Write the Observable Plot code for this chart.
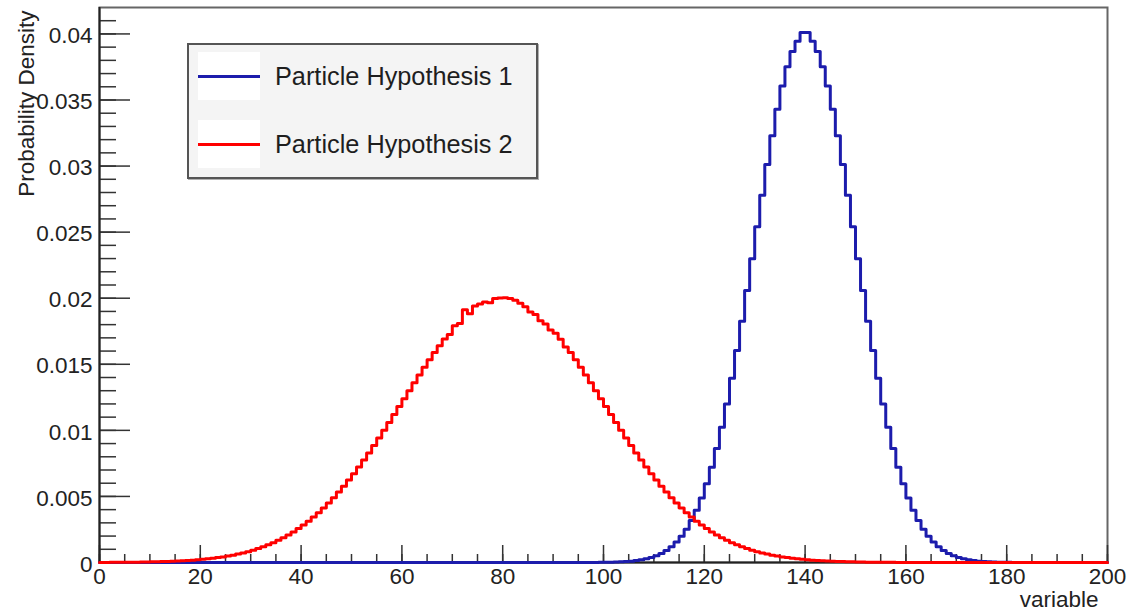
<!DOCTYPE html>
<html>
<head>
<meta charset="utf-8">
<script src="https://cdn.jsdelivr.net/npm/d3@7"></script>
<script src="https://cdn.jsdelivr.net/npm/@observablehq/plot@0.6"></script>
<style>
  body { margin: 0; background: #fff; font-family: "Liberation Sans", Arial, sans-serif; }
  #wrap { position: relative; width: 1143px; height: 611px; overflow: hidden; }
  .legend { position: absolute; left: 187px; top: 43px; width: 347px; height: 132px;
            border: 2px solid #555; background: #f4f4f4; box-shadow: 1px 1px 0 #b0b0b0; }
  .sample { position: absolute; left: 9px; width: 62px; height: 48px; background: #fff; }
  .sample i { position: absolute; left: 0; right: 0; top: 23px; height: 3px; display: block; }
  .entry { position: absolute; left: 86px; font-size: 25.3px; color: #1e1e1e; line-height: 30px; white-space: nowrap; }
</style>
</head>
<body>
<div id="wrap"></div>
<script>
// ---- data ----
const binLow = 0, binHigh = 200, binWidth = 1;
const seriesNames = ["Particle Hypothesis 1", "Particle Hypothesis 2"];
const seriesColors = ["#1c1cac", "#ff0000"];

// Hypothesis 1: bins 92 .. 187
const hyp1Start = 92;
const hyp1Values = [
  0.000001, 0.000001, 0.000001, 0.000002, 0.000003, 0.000004, 0.000007, 0.000011,
  0.000016, 0.000024, 0.000035, 0.000051, 0.000073, 0.000104, 0.000146, 0.000203,
  0.000279, 0.000381, 0.000514, 0.000687, 0.000909, 0.001191, 0.001545, 0.001984,
  0.002522, 0.003174, 0.003955, 0.004880, 0.005960, 0.007207, 0.008628, 0.010227,
  0.012001, 0.013943, 0.016038, 0.018265, 0.020593, 0.022988, 0.025406, 0.027799,
  0.030114, 0.032297, 0.034294, 0.036053, 0.037524, 0.038667, 0.039448, 0.040100,
  0.040100, 0.039448, 0.038667, 0.037524, 0.036053, 0.034294, 0.032297, 0.030114,
  0.027799, 0.025406, 0.022988, 0.020593, 0.018265, 0.016038, 0.013943, 0.012001,
  0.010227, 0.008628, 0.007207, 0.005960, 0.004880, 0.003955, 0.003174, 0.002522,
  0.001984, 0.001545, 0.001191, 0.000909, 0.000687, 0.000514, 0.000381, 0.000279,
  0.000203, 0.000146, 0.000104, 0.000073, 0.000051, 0.000035, 0.000024, 0.000016,
  0.000011, 0.000007, 0.000004, 0.000003, 0.000002, 0.000001, 0.000001, 0.000001
];

// Hypothesis 2: bins 0 .. 162
const hyp2Start = 0;
const hyp2Values = [
  0.000007, 0.000009, 0.000011, 0.000013, 0.000016, 0.000019, 0.000023, 0.000028,
  0.000033, 0.000040, 0.000048, 0.000057, 0.000067, 0.000079, 0.000093, 0.000110,
  0.000129, 0.000151, 0.000176, 0.000206, 0.000239, 0.000277, 0.000320, 0.000369,
  0.000424, 0.000487, 0.000557, 0.000636, 0.000725, 0.000823, 0.000933, 0.001054,
  0.001188, 0.001337, 0.001500, 0.001678, 0.001873, 0.002086, 0.002317, 0.002567,
  0.002837, 0.003128, 0.003439, 0.003773, 0.004128, 0.004505, 0.004905, 0.005327,
  0.005771, 0.006236, 0.006721, 0.007227, 0.007751, 0.008292, 0.008849, 0.009420,
  0.010002, 0.010594, 0.011193, 0.011796, 0.012401, 0.013004, 0.013603, 0.014193,
  0.014772, 0.015337, 0.015883, 0.016408, 0.016908, 0.017250, 0.017910, 0.018080,
  0.019120, 0.018820, 0.019420, 0.019570, 0.019720, 0.019650, 0.019980, 0.020020,
  0.020030, 0.019980, 0.019850, 0.019620, 0.019350, 0.018950, 0.018760, 0.018300,
  0.018050, 0.017600, 0.017350, 0.016900, 0.016300, 0.015883, 0.015337, 0.014772,
  0.014193, 0.013603, 0.013004, 0.012401, 0.011796, 0.011193, 0.010594, 0.010002,
  0.009420, 0.008849, 0.008292, 0.007751, 0.007227, 0.006721, 0.006236, 0.005771,
  0.005327, 0.004905, 0.004505, 0.004128, 0.003773, 0.003439, 0.003128, 0.002837,
  0.002567, 0.002317, 0.002086, 0.001873, 0.001678, 0.001500, 0.001337, 0.001188,
  0.001054, 0.000933, 0.000823, 0.000725, 0.000636, 0.000557, 0.000487, 0.000424,
  0.000369, 0.000320, 0.000277, 0.000239, 0.000206, 0.000176, 0.000151, 0.000129,
  0.000110, 0.000093, 0.000079, 0.000067, 0.000057, 0.000048, 0.000040, 0.000033,
  0.000028, 0.000023, 0.000019, 0.000016, 0.000013, 0.000011, 0.000009, 0.000007,
  0.000005, 0.000004, 0.000003
];

// ticks and labels
const xMajorTicks = [0, 20, 40, 60, 80, 100, 120, 140, 160, 180, 200];
const xTickLabels = ["0", "20", "40", "60", "80", "100", "120", "140", "160", "180", "200"];
const xMinorTicks = d3.range(0, 201, 5);
const yMajorTicks = [0, 0.005, 0.01, 0.015, 0.02, 0.025, 0.03, 0.035, 0.04];
const yTickLabels = ["0", "0.005", "0.01", "0.015", "0.02", "0.025", "0.03", "0.035", "0.04"];
const yMinorTicks = d3.range(0, 42).map(k => k / 1000);
const xTitle = "variable";
const yTitle = "Probability Density";

// ---- build step tables ----
const nBins = Math.round((binHigh - binLow) / binWidth);
function steps(start, values) {
  const full = new Array(nBins).fill(0);
  values.forEach((v, k) => { full[start + k] = v; });
  const pts = full.map((v, i) => ({x: binLow + i * binWidth, y: v}));
  pts.push({x: binHigh, y: full[nBins - 1]});
  return pts;
}
const hyp1 = steps(hyp1Start, hyp1Values);
const hyp2 = steps(hyp2Start, hyp2Values);

const tickStyle = {stroke: "#333", strokeWidth: 1.5, tickFormat: () => "", label: null};

const chart = Plot.plot({
  width: 1143,
  height: 611,
  marginLeft: 99,
  marginRight: 36,
  marginTop: 7,
  marginBottom: 49,
  x: {domain: [binLow, binHigh], label: null},
  y: {domain: [0, 0.042], label: null},
  style: {fontFamily: "Liberation Sans, Arial, sans-serif", fontSize: "22.5px", color: "#222", background: "#fff", overflow: "visible"},
  marks: [
    Plot.frame({stroke: "#666", strokeWidth: 2}),
    Plot.axisX(xMinorTicks, {...tickStyle, tickSize: -8}),
    Plot.axisX(xMajorTicks, {...tickStyle, tickSize: -17}),
    Plot.axisY(yMinorTicks, {...tickStyle, tickSize: -17}),
    Plot.axisY(yMajorTicks, {...tickStyle, tickSize: -31}),
    Plot.axisX(xMajorTicks, {tickSize: 0, tickPadding: 6, tickFormat: d => xTickLabels[xMajorTicks.indexOf(d)], label: null, fill: "#222"}),
    Plot.axisY(yMajorTicks, {tickSize: 0, tickPadding: 7, dy: 2, tickFormat: d => yTickLabels[yMajorTicks.indexOf(d)], label: null, fill: "#222"}),
    Plot.ruleX([binLow], {stroke: "#222", strokeWidth: 2}),
    Plot.ruleY([0], {stroke: "#222", strokeWidth: 2}),
    Plot.line(hyp1, {x: "x", y: "y", curve: "step-after", stroke: seriesColors[0], strokeWidth: 3}),
    Plot.line(hyp2, {x: "x", y: "y", curve: "step-after", stroke: seriesColors[1], strokeWidth: 3}),
    Plot.text([xTitle], {frameAnchor: "bottom-right", textAnchor: "end", lineAnchor: "middle", dx: -9, dy: 37, fill: "#222"}),
    Plot.text([yTitle], {frameAnchor: "top-left", rotate: -90, textAnchor: "end", lineAnchor: "middle", dx: -72.5, dy: 3, fill: "#222"})
  ]
});

const wrap = document.getElementById("wrap");
wrap.appendChild(chart);

// legend (inside the frame, as in the reference)
const legend = document.createElement("div");
legend.className = "legend";
seriesNames.forEach((name, k) => {
  const s = document.createElement("div");
  s.className = "sample";
  s.style.top = (7 + k * 68) + "px";
  const ln = document.createElement("i");
  ln.style.background = seriesColors[k];
  s.appendChild(ln);
  legend.appendChild(s);
  const t = document.createElement("div");
  t.className = "entry";
  t.style.top = (16 + k * 68) + "px";
  t.textContent = name;
  legend.appendChild(t);
});
wrap.appendChild(legend);
</script>
</body>
</html>
